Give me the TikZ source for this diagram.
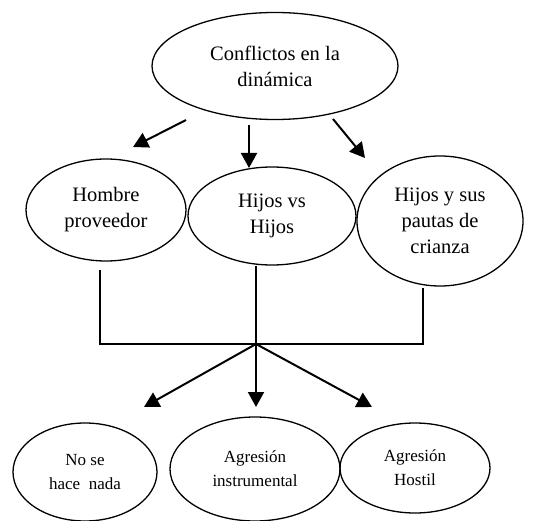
\documentclass[tikz,border=0pt]{standalone}
\usepackage{fontspec}
\setmainfont{Liberation Serif}
\usetikzlibrary{arrows.meta,shapes.geometric}
\begin{document}
\begin{tikzpicture}[x=1pt,y=-1pt,
  ell/.style={draw,line width=1.3pt,ellipse,inner sep=0pt,align=center},
  big/.style={font=\fontsize{20.5}{26}\selectfont},
  small/.style={font=\fontsize{17}{24}\selectfont},
  arr/.style={line width=2pt,-{Triangle[length=15pt,width=16pt]}},
  lin/.style={line width=1.6pt}]
\useasboundingbox (0,0) rectangle (557,521);
\node[ell,big,minimum width=246pt,minimum height=107pt] (top) at (275,66) {Conflictos en la\\dinámica};
\node[ell,big,minimum width=160pt,minimum height=102pt] (hom) at (106,210) {Hombre\\proveedor};
\node[ell,big,minimum width=168pt,minimum height=98pt] (hij) at (272,216) {Hijos vs\\Hijos};
\node[ell,big,minimum width=166pt,minimum height=130pt] (pau) at (440,221) {Hijos y sus\\pautas de\\crianza};
\node[ell,small,minimum width=144pt,minimum height=98pt] (nad) at (85,472) {No se\\hace~~nada};
\node[ell,small,minimum width=170pt,minimum height=104pt] (ins) at (255,469) {Agresión\\instrumental};
\node[ell,small,minimum width=150pt,minimum height=90pt] (hos) at (415,468) {Agresión\\Hostil};
% top arrows
\coordinate (a1s) at (186,120); \coordinate (a1e) at (133,147);
\coordinate (a2s) at (249,125); \coordinate (a2e) at (249,168);
\coordinate (a3s) at (333,119); \coordinate (a3e) at (365,158);
\draw[arr] (a1s) -- (a1e);
\draw[arr] (a2s) -- (a2e);
\draw[arr] (a3s) -- (a3e);
% joining lines
\coordinate (l1) at (100,270); \coordinate (l3) at (423,288);
\coordinate (j) at (256,344);
\draw[lin] (l1) |- (j) -| (l3);
\draw[lin] (hij.south -| j) -- (j);
% bottom arrows
\coordinate (b1) at (144,407); \coordinate (b2) at (256,407); \coordinate (b3) at (372,407);
\draw[arr] (j) -- (b1);
\draw[arr] (j) -- (b2);
\draw[arr] (j) -- (b3);
\end{tikzpicture}
\end{document}
